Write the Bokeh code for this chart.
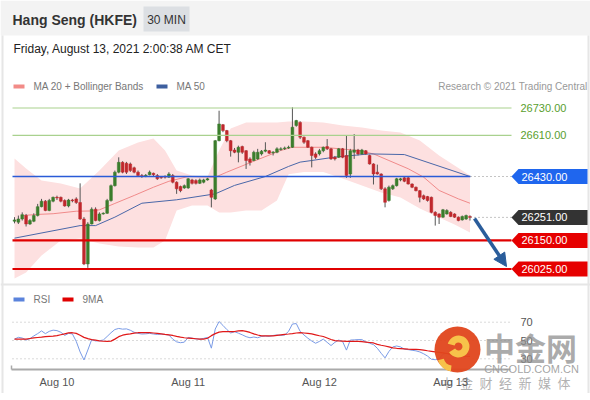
import numpy as np
from bokeh.plotting import figure
from bokeh.models import Range1d, FixedTicker, Arrow, NormalHead
from bokeh.core.properties import value
from bokeh.embed import file_html
from bokeh.resources import INLINE

# ---------------- data ----------------
title = "Hang Seng (HKFE)"
timeframe = "30 MIN"
timestamp = "Friday, August 13, 2021 2:00:38 AM CET"
credit = "Research \u00a9 2021 Trading Central"

candle_open = [
    26234, 26230, 26244, 26259, 26222, 26234, 26259, 26298, 26322, 26281,
    26322, 26339, 26339, 26325, 26301, 26327, 26332, 26316, 26244, 26047,
    26222, 26287, 26237, 26266, 26269, 26325, 26390, 26449, 26492, 26488,
    26485, 26468, 26449, 26434, 26432, 26438, 26444, 26434, 26427, 26430,
    26427, 26434, 26405, 26386, 26380, 26380, 26415, 26412, 26400, 26405,
    26415, 26371, 26332, 26587, 26657, 26631, 26587, 26546, 26536, 26561,
    26543, 26507, 26500, 26507, 26529, 26541, 26543, 26536, 26536, 26549,
    26552, 26555, 26558, 26653, 26667, 26602, 26587, 26558, 26529, 26529,
    26543, 26561, 26551, 26514, 26514, 26551, 26522, 26441, 26536, 26546,
    26529, 26543, 26522, 26485, 26449, 26441, 26376, 26325, 26376, 26390,
    26415, 26424, 26424, 26397, 26383, 26368, 26346, 26342, 26339, 26273,
    26266, 26252, 26266, 26273, 26266, 26252, 26240, 26244, 26255]
candle_close = [
    26240, 26244, 26263, 26222, 26237, 26259, 26298, 26322, 26281, 26325,
    26339, 26336, 26322, 26301, 26327, 26325, 26316, 26244, 26047, 26222,
    26287, 26237, 26266, 26269, 26325, 26390, 26449, 26492, 26449, 26449,
    26456, 26449, 26434, 26430, 26435, 26449, 26438, 26420, 26424, 26427,
    26441, 26405, 26376, 26368, 26390, 26420, 26400, 26400, 26415, 26415,
    26420, 26339, 26587, 26660, 26631, 26587, 26543, 26536, 26558, 26536,
    26500, 26492, 26536, 26536, 26541, 26546, 26532, 26537, 26551, 26551,
    26555, 26558, 26646, 26675, 26602, 26580, 26558, 26522, 26514, 26543,
    26558, 26551, 26507, 26507, 26551, 26514, 26434, 26543, 26546, 26529,
    26546, 26529, 26485, 26441, 26441, 26376, 26317, 26383, 26390, 26420,
    26420, 26409, 26397, 26383, 26368, 26339, 26332, 26325, 26273, 26259,
    26252, 26284, 26281, 26255, 26252, 26237, 26255, 26259, 26251]
candle_high = [
    26252, 26259, 26273, 26266, 26244, 26269, 26310, 26332, 26327, 26332,
    26342, 26346, 26342, 26330, 26332, 26332, 26339, 26400, 26252, 26230,
    26295, 26295, 26273, 26273, 26332, 26395, 26456, 26514, 26497, 26494,
    26491, 26473, 26456, 26441, 26441, 26456, 26447, 26441, 26432, 26435,
    26449, 26441, 26409, 26390, 26395, 26424, 26420, 26418, 26421, 26420,
    26424, 26376, 26590, 26718, 26660, 26634, 26590, 26555, 26565, 26565,
    26546, 26514, 26543, 26551, 26546, 26580, 26546, 26541, 26558, 26558,
    26561, 26565, 26733, 26678, 26672, 26605, 26590, 26561, 26536, 26551,
    26561, 26594, 26555, 26520, 26555, 26555, 26609, 26551, 26616, 26551,
    26551, 26546, 26526, 26488, 26482, 26444, 26383, 26390, 26395, 26424,
    26424, 26430, 26430, 26400, 26386, 26371, 26351, 26345, 26342, 26278,
    26269, 26288, 26287, 26278, 26269, 26255, 26259, 26263, 26260]
candle_low = [
    26225, 26222, 26237, 26211, 26218, 26230, 26255, 26295, 26278, 26278,
    26317, 26327, 26317, 26298, 26295, 26317, 26310, 26240, 26042, 26030,
    26220, 26234, 26233, 26263, 26266, 26320, 26386, 26444, 26444, 26441,
    26450, 26444, 26430, 26424, 26427, 26435, 26432, 26415, 26420, 26421,
    26424, 26400, 26354, 26361, 26376, 26376, 26395, 26395, 26397, 26400,
    26412, 26295, 26327, 26584, 26624, 26580, 26517, 26532, 26492, 26529,
    26463, 26478, 26497, 26503, 26522, 26536, 26529, 26522, 26532, 26543,
    26546, 26551, 26555, 26648, 26594, 26573, 26555, 26470, 26507, 26522,
    26536, 26546, 26503, 26500, 26511, 26510, 26424, 26424, 26507, 26522,
    26526, 26526, 26482, 26395, 26438, 26371, 26295, 26320, 26371, 26386,
    26409, 26405, 26395, 26379, 26365, 26317, 26327, 26320, 26269, 26215,
    26222, 26249, 26263, 26252, 26249, 26234, 26237, 26240, 26237]

# moving averages / Bollinger band, read at selected candles
ma20_index = [2, 6, 10, 16, 20, 22, 26, 31, 36, 40, 45, 52, 55, 62, 69, 72, 80,
              89, 93, 97, 102, 106, 110, 115, 118]
ma20_value = [26259, 26264, 26267, 26278, 26279, 26284, 26312, 26347, 26383,
              26409, 26430, 26427, 26449, 26497, 26544, 26558, 26558, 26544,
              26529, 26500, 26464, 26427, 26369, 26332, 26313]
ma50_index = [0, 17, 21, 26, 33, 42, 52, 57, 65, 71, 74, 77, 83, 92, 101, 118]
ma50_value = [26160, 26215, 26215, 26252, 26313, 26328, 26354, 26391, 26430,
              26474, 26493, 26500, 26515, 26529, 26526, 26430]
band_index = [0, 3, 7, 12, 17, 22, 27, 32, 36, 39, 42, 46, 50, 53, 56, 60, 64,
              68, 71, 75, 80, 85, 90, 95, 100, 105, 110, 114, 118]
band_upper = [26509, 26465, 26412, 26399, 26377, 26456, 26544, 26579, 26596,
              26544, 26456, 26434, 26430, 26544, 26640, 26666, 26666, 26666,
              26671, 26671, 26666, 26653, 26645, 26631, 26623, 26588, 26522,
              26478, 26434]
band_lower = [25983, 26010, 26084, 26150, 26158, 26137, 26123, 26119, 26119,
              26150, 26281, 26303, 26303, 26272, 26272, 26281, 26281, 26325,
              26440, 26450, 26450, 26421, 26391, 26360, 26338, 26290, 26250,
              26220, 26185]

rsi = [
    51.5, 53.5, 52.7, 50.5, 52.0, 55.0, 57.5, 60.5, 57.5, 60.0,
    61.3, 60.8, 59.0, 55.5, 57.8, 57.2, 49.0, 37.5, 28.7, 39.6,
    51.0, 49.5, 49.8, 50.5, 54.4, 58.5, 62.0, 63.2, 62.4, 62.7,
    61.2, 59.0, 57.8, 57.1, 57.3, 57.8, 57.1, 56.6, 57.0, 56.5,
    56.0, 51.5, 48.5, 47.6, 48.2, 53.4, 52.5, 51.7, 51.5, 52.3,
    53.4, 41.6, 62.5, 70.7, 66.5, 62.0, 58.2, 59.6, 58.0, 56.2,
    54.2, 53.0, 53.8, 53.0, 54.5, 54.9, 54.5, 55.5, 56.0, 55.6,
    56.0, 60.0, 68.0, 68.5, 60.0, 56.0, 52.5, 49.5, 47.0, 49.0,
    51.5, 48.0, 44.5, 48.0, 50.5, 48.9, 39.5, 50.5, 50.7, 51.0,
    51.0, 48.5, 47.0, 45.5, 41.5, 36.0, 31.0, 38.0, 43.0, 44.0,
    43.0, 40.5, 40.0, 39.3, 38.7, 37.5, 35.5, 33.0, 29.5, 29.0,
    30.0, 35.0, 36.0, 34.0, 33.0, 31.0, 33.0, 35.0, 35.0]
rsi_ma9 = [
    51.5, 51.5, 51.5, 51.6, 52.2, 52.8, 53.3, 53.7, 54.2, 54.5,
    54.8, 55.3, 56.3, 57.3, 58.3, 58.5, 57.8, 55.8, 53.4, 52.0,
    51.0, 50.5, 49.6, 49.2, 49.0, 49.3, 51.5, 54.2, 55.8, 56.7,
    57.3, 58.0, 58.5, 58.7, 58.7, 58.6, 58.2, 57.7, 57.2, 56.6,
    56.1, 55.5, 54.5, 53.6, 53.0, 52.7, 52.3, 51.9, 51.5, 51.5,
    52.5, 55.3, 57.5, 59.2, 59.6, 59.7, 59.7, 59.8, 60.5, 60.8,
    60.0, 58.8, 57.2, 56.0, 55.0, 55.0, 55.0, 55.0, 55.6, 56.2,
    56.7, 57.1, 57.6, 58.2, 58.7, 58.2, 57.7, 57.2, 56.2, 55.2,
    54.4, 52.8, 51.1, 49.8, 49.5, 49.3, 49.0, 49.0, 49.0, 49.0,
    48.8, 48.3, 47.8, 47.3, 45.8, 44.8, 44.0, 43.0, 42.0, 41.5,
    41.2, 40.9, 40.6, 40.4, 40.2, 40.0, 39.5, 38.8, 38.2, 37.6,
    37.0, 36.4, 35.8, 35.0, 34.2, 33.5, 33.0, 32.8, 32.6]

day_labels = ["Aug 10", "Aug 11", "Aug 12", "Aug 13"]
day_start_index = [11, 45, 79, 113]

resistance_levels = [26730, 26610]
pivot_level = 26430
last_price = 26251
support_levels = [26150, 26025]
rsi_levels = [70, 50, 30]

legend_main = ["MA 20 + Bollinger Bands", "MA 50"]
legend_rsi = ["RSI", "9MA"]
watermark = ["\u4e2d\u91d1\u7f51", "CNGOLD.COM.CN",
             "\u4e2d\u2002\u91d1\u2002\u8d22\u2002\u7ecf\u2002\u65b0\u2002\u5a92\u2002\u4f53"]

# ---------------- layout (reference pixels -> data units) ----------------
FONT = "Liberation Sans"
CJK = "Noto Sans CJK SC"
FRAME_W, FRAME_H = 590, 393
AXIS_PX = 369
LEFT_PX, STEP_PX = 14.0, 3.86
ANCHOR_PRICE, ANCHOR_PX, PX_PER_POINT = 26430.0, 176.0, 0.22837
RSI_ANCHOR, RSI_ANCHOR_PX, PX_PER_RSI = 50.0, 340.0, 0.915


def X(px):
    return (px - LEFT_PX) / STEP_PX


def Y(py):
    return ANCHOR_PRICE - (py - ANCHOR_PX) / PX_PER_POINT


def R(py):
    return RSI_ANCHOR - (py - RSI_ANCHOR_PX) / PX_PER_RSI


p = figure(frame_width=FRAME_W, frame_height=FRAME_H, min_border=0,
           x_range=Range1d(X(0), X(FRAME_W)),
           y_range=Range1d(Y(FRAME_H), Y(0)),
           y_axis_location=None, output_backend="svg", toolbar_location=None)
p.extra_y_ranges = {"rsi": Range1d(R(FRAME_H), R(0))}
p.grid.visible = False
p.outline_line_color = None
p.background_fill_color = "white"
p.border_fill_color = "white"


def txt(px, py, s, size="10px", color="#777777", align="left", style="normal",
        font=FONT, alpha=1.0):
    p.text(x=[X(px)], y=[Y(py)], text=[s], text_font=value(font),
           text_font_size=size, text_color=color, text_align=align,
           text_baseline="middle", text_font_style=style, text_alpha=alpha)


def box(x0, x1, y0, y1, color, alpha=1.0):
    p.quad(left=[X(x0)], right=[X(x1)], top=[Y(y0)], bottom=[Y(y1)],
           fill_color=color, fill_alpha=alpha, line_color=None)


# header
box(0, 600, 0, 35, "#f3f3f3")
txt(12, 19, title, size="14px", color="#333333", style="bold")
box(143, 189, 6, 31, "#dcdfe3")
txt(166, 19, timeframe, size="12px", color="#333333", align="center")
txt(13, 48, timestamp, size="12px", color="#222222")

# card border
for bx in (2, 588):
    p.segment(x0=[X(bx)], x1=[X(bx)], y0=[Y(35)], y1=[Y(400)],
              line_color="#e6e6e6", line_width=2)

# legend row
box(13, 24, 84, 88, "#f28b87")
txt(33, 86, legend_main[0])
box(156, 167, 84, 88, "#3d5f9f")
txt(176, 86, legend_main[1])
txt(587, 86, credit, color="#999999", align="right")

# Bollinger band and moving averages
p.varea(x=band_index, y1=band_lower, y2=band_upper, fill_color="#fde0e0",
        fill_alpha=1.0)
p.line(ma20_index, ma20_value, line_color="#f08a8a", line_width=1)
p.line(ma50_index, ma50_value, line_color="#4a67a8", line_width=1)

# candles
idx = np.arange(len(candle_open))
o = np.array(candle_open, dtype=float)
c = np.array(candle_close, dtype=float)
up = c >= o
p.segment(x0=idx, y0=candle_low, x1=idx, y1=candle_high,
          line_color="#555555", line_width=1)
body_top = np.maximum(o, c)
body_bot = np.minimum(o, c)
body_bot = np.where(body_top - body_bot < 3, body_top - 3, body_bot)
colors = np.where(up, "#3b7d2c", "#c0282d")
p.vbar(x=idx, width=0.72, top=body_top, bottom=body_bot,
       fill_color=list(colors), line_color=list(colors), line_width=0.5)

# levels
x_left, x_last, x_tip = X(12), X(470), X(511)
for lv in resistance_levels:
    p.segment(x0=[x_left], x1=[x_tip], y0=[lv], y1=[lv], line_color="#a9d18e",
              line_width=1.2)
    p.text(x=[X(520)], y=[lv], text=[f"{lv:.2f}"], text_font=value(FONT),
           text_font_size="11px", text_color="#5a9e2e", text_baseline="middle")
p.segment(x0=[x_left], x1=[x_last], y0=[pivot_level], y1=[pivot_level],
          line_color="#2a5bd7", line_width=1.3)
for lv in [pivot_level, last_price]:
    p.segment(x0=[x_last], x1=[x_tip], y0=[lv], y1=[lv], line_color="#888888",
              line_width=1, line_dash="1 3")
for lv in support_levels:
    p.segment(x0=[x_left], x1=[x_tip], y0=[lv], y1=[lv], line_color="#e00000",
              line_width=2.2)

half = 7.5 / PX_PER_POINT
tags = [(pivot_level, "#1f66ee"), (last_price, "#333333")] + \
       [(lv, "#e60000") for lv in support_levels]
for lv, col in tags:
    p.patch(x=[X(511), X(518), X(587), X(587), X(518)],
            y=[lv, lv + half, lv + half, lv - half, lv - half],
            fill_color=col, line_color=None)
    p.text(x=[X(521)], y=[lv], text=[f"{lv:.2f}"], text_font=value(FONT),
           text_font_size="11px", text_color="white", text_baseline="middle")

p.add_layout(Arrow(end=NormalHead(size=13, fill_color="#2a5d9b",
                                  line_color="#2a5d9b"),
                   x_start=X(474), y_start=Y(218), x_end=X(506), y_end=Y(266),
                   line_color="#2a5d9b", line_width=3.5))

# panel separators
p.segment(x0=[X(0)], x1=[X(600)], y0=[Y(284)], y1=[Y(284)],
          line_color="#e6e6e6", line_width=2)
p.segment(x0=[X(0)], x1=[X(600)], y0=[Y(397)], y1=[Y(397)],
          line_color="#e6e6e6", line_width=2)

# RSI panel
box(13, 24, 297, 301, "#5b83dc")
txt(33, 299, legend_rsi[0])
box(62, 73, 297, 301, "#e00000")
txt(82, 299, legend_rsi[1])
for lv in rsi_levels:
    p.segment(x0=[x_left], x1=[x_tip], y0=[lv], y1=[lv], y_range_name="rsi",
              line_color="#b5b5b5", line_width=1, line_dash="1 3")
    p.text(x=[X(520)], y=[lv], text=[str(lv)], y_range_name="rsi",
           text_font=value(FONT), text_font_size="11px", text_color="#555555",
           text_baseline="middle")
p.line(idx, rsi, y_range_name="rsi", line_color="#7a9be6", line_width=1)
p.line(idx, rsi_ma9, y_range_name="rsi", line_color="#e01818", line_width=1.2)

# time axis line (inside the frame) + axis labels from the bottom axis
p.segment(x0=[X(11)], x1=[X(510)], y0=[Y(AXIS_PX)], y1=[Y(AXIS_PX)],
          line_color="#aaaaaa", line_width=2)
p.segment(x0=[X(11)], x1=[X(11)], y0=[Y(AXIS_PX)], y1=[Y(AXIS_PX - 4)],
          line_color="#aaaaaa", line_width=1.5)
ax = p.xaxis[0]
ax.ticker = FixedTicker(ticks=day_start_index)
ax.major_label_overrides = {i: lab for i, lab in zip(day_start_index, day_labels)}
ax.axis_line_color = None
ax.major_tick_line_color = None
ax.minor_tick_line_color = None
ax.major_tick_in = 0
ax.major_tick_out = 0
ax.minor_tick_in = 0
ax.minor_tick_out = 0
ax.major_label_standoff = -(FRAME_H - AXIS_PX) + 6
ax.major_label_text_font = FONT
ax.major_label_text_font_size = "11px"
ax.major_label_text_color = "#555555"

# watermark overlay
p.scatter(x=[X(457)], y=[Y(349)], size=46, fill_color="#e0461c",
          line_color=None, fill_alpha=0.95)
p.annular_wedge(x=[X(458)], y=[Y(346)], inner_radius=4, outer_radius=11,
                inner_radius_units="screen", outer_radius_units="screen",
                start_angle=-2.6, end_angle=2.9, fill_color="#f7c24a",
                line_color=None)
p.annular_wedge(x=[X(452)], y=[Y(356)], inner_radius=9, outer_radius=15,
                inner_radius_units="screen", outer_radius_units="screen",
                start_angle=3.4, end_angle=4.6, fill_color="#f7c24a",
                line_color=None)
txt(530, 346, watermark[0], size="31px", color="#8f8f8f", align="center",
    style="bold", font=CJK, alpha=0.75)
txt(531, 368, watermark[1], size="11px", color="#9a9a9a", align="center",
    alpha=0.9)
txt(505, 382, watermark[2], size="13px", color="#a8a8a8", align="center",
    font=CJK, alpha=0.9)

open("out.html", "w").write(file_html(p, INLINE))
